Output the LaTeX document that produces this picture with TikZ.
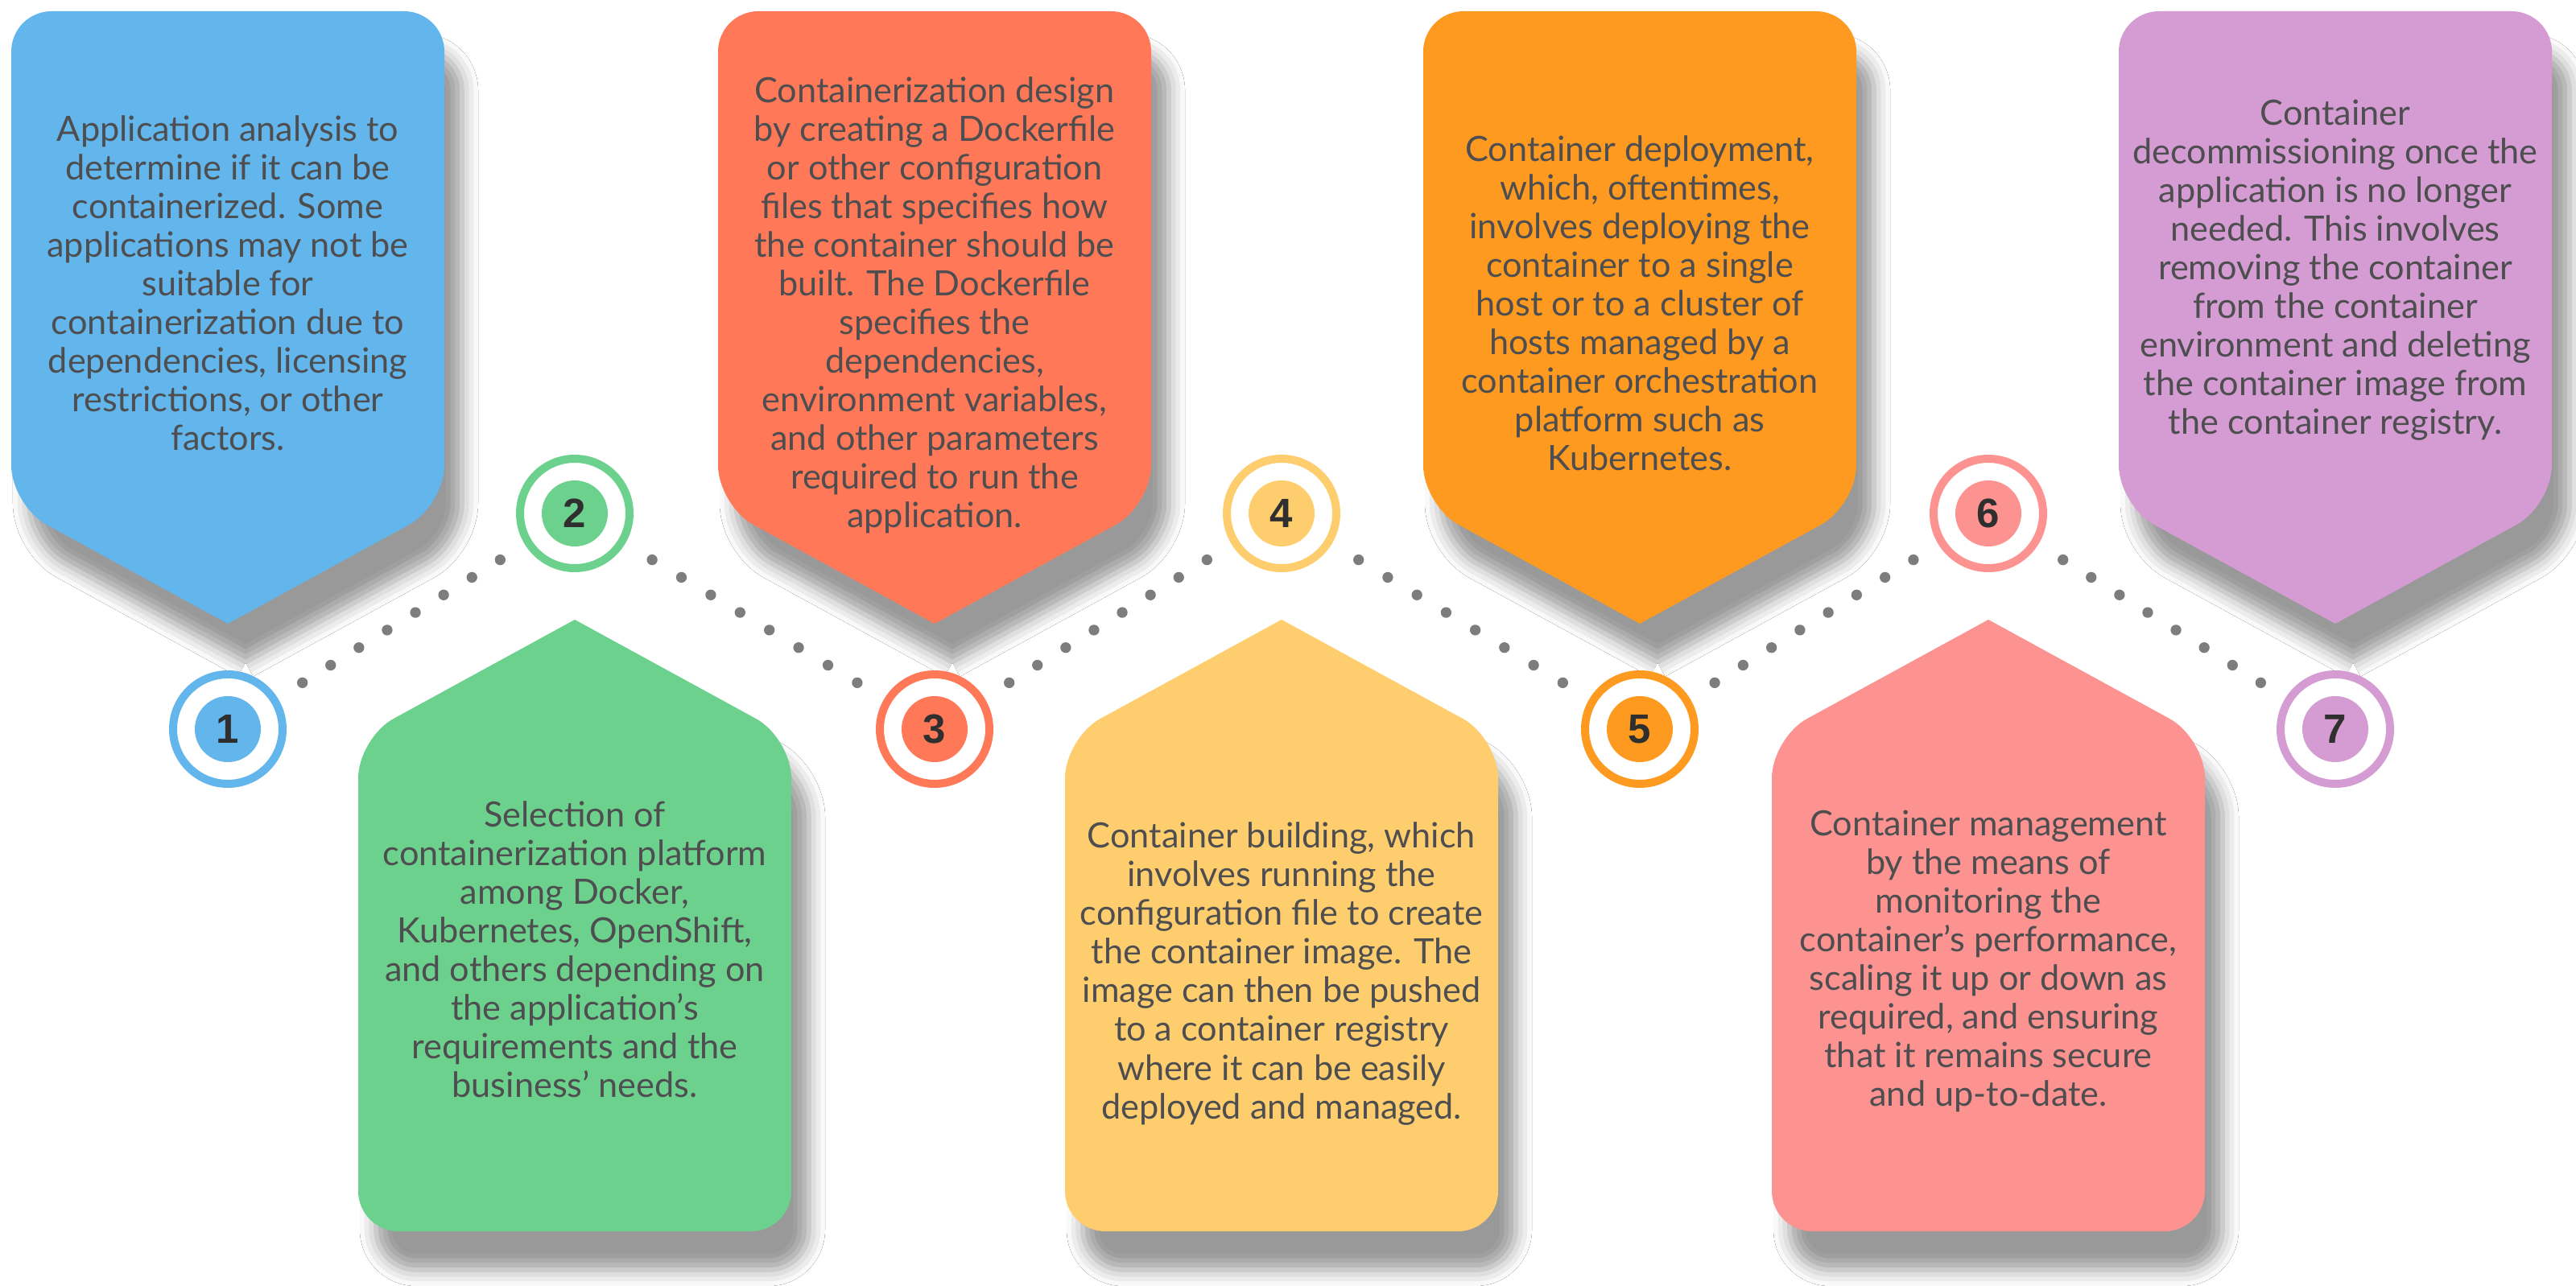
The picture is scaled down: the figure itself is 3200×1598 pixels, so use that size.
\documentclass[tikz,border=0pt]{standalone}
\usepackage{fontspec}
\setmainfont{Lato}
\newfontfamily\numfont{Liberation Sans}
\usetikzlibrary{shadows.blur}
\definecolor{stepblue}{HTML}{63B6EC}
\definecolor{stepgreen}{HTML}{6DD18E}
\definecolor{stepred}{HTML}{FF7958}
\definecolor{stepyellow}{HTML}{FECE6E}
\definecolor{steporange}{HTML}{FD9A1F}
\definecolor{steppink}{HTML}{FC9391}
\definecolor{steppurple}{HTML}{D49CD3}
\definecolor{textgray}{HTML}{4E4E50}
\definecolor{numgray}{HTML}{2F2F2F}
\definecolor{dotgray}{HTML}{7D7D7D}
\tikzset{
  boxshadow/.style={blur shadow={shadow xshift=2.2mm,shadow yshift=-4.8mm,shadow blur radius=2mm,shadow opacity=40}},
  boxtext/.style={align=center,text=textgray,font=\fontsize{12.3pt}{13.66pt}\selectfont},
  ring/.style={circle,draw=#1,line width=1mm,fill=white,minimum size=13.6mm,inner sep=0pt},
  disc/.style={circle,fill=#1,minimum size=8.2mm,inner sep=0pt,text=numgray,font=\numfont\bfseries\fontsize{14.5pt}{14.5pt}\selectfont},
  dotnode/.style={circle,fill=dotgray,minimum size=1.33mm,inner sep=0pt},
}
\begin{document}
\begin{tikzpicture}[x=0.1mm,y=-0.1mm]
\useasboundingbox (0,0) rectangle (3200,1598);
\fill[white] (0,0) rectangle (3200,1598);
% boxes above the line
\foreach \x/\c in {283/stepblue,1161/stepred,2037/steporange,2901/steppurple}
  \fill[\c,boxshadow,rounded corners=5mm] (\x,775) -- ++(-269,-147) -- ++(0,-614) -- ++(538,0) -- ++(0,614) -- (\x,775);
% boxes below the line
\foreach \x/\c in {714/stepgreen,1592/stepyellow,2470/steppink}
  \fill[\c,boxshadow,rounded corners=5mm] (\x,770) -- ++(269,147) -- ++(0,613) -- ++(-538,0) -- ++(0,-613) -- (\x,770);
% numbered circles
\foreach \n/\x/\y/\c in {1/283/906/stepblue,2/714/638/stepgreen,3/1161/906/stepred,4/1592/638/stepyellow,5/2037/906/steporange,6/2470/638/steppink,7/2901/906/steppurple} {
  \node[ring=\c] (c\n) at (\x,\y) {};
  \node[disc=\c] (n\n) at (c\n) {\n};
}
% dotted links
\foreach \a/\b in {1/2,2/3,3/4,4/5,5/6,6/7}
  \path (c\a.center) -- (c\b.center)
    \foreach \p in {0.215,0.2964,0.3779,0.4593,0.5407,0.6221,0.7036,0.785} {node[dotnode,pos=\p] {}};
% texts
\node[boxtext] (t1) at (283,352) {Application analysis to\\determine if it can be\\containerized. Some\\applications may not be\\suitable for\\containerization due to\\dependencies, licensing\\restrictions, or other\\factors.};
\node[boxtext] (t2) at (714,1180) {Selection of\\containerization platform\\among Docker,\\Kubernetes, OpenShift,\\and others depending on\\the application’s\\requirements and the\\business’ needs.};
\node[boxtext] (t3) at (1161,379) {Containerization design\\by creating a Dockerfile\\or other configuration\\files that specifies how\\the container should be\\built. The Dockerfile\\specifies the\\dependencies,\\environment variables,\\and other parameters\\required to run the\\application.};
\node[boxtext] (t4) at (1592,1210) {Container building, which\\involves running the\\configuration file to create\\the container image. The\\image can then be pushed\\to a container registry\\where it can be easily\\deployed and managed.};
\node[boxtext] (t5) at (2037,377) {Container deployment,\\which, oftentimes,\\involves deploying the\\container to a single\\host or to a cluster of\\hosts managed by a\\container orchestration\\platform such as\\Kubernetes.};
\node[boxtext] (t6) at (2470,1194) {Container management\\by the means of\\monitoring the\\container’s performance,\\scaling it up or down as\\required, and ensuring\\that it remains secure\\and up-to-date.};
\node[boxtext] (t7) at (2901,336) {Container\\decommissioning once the\\application is no longer\\needed. This involves\\removing the container\\from the container\\environment and deleting\\the container image from\\the container registry.};
\end{tikzpicture}
\end{document}
